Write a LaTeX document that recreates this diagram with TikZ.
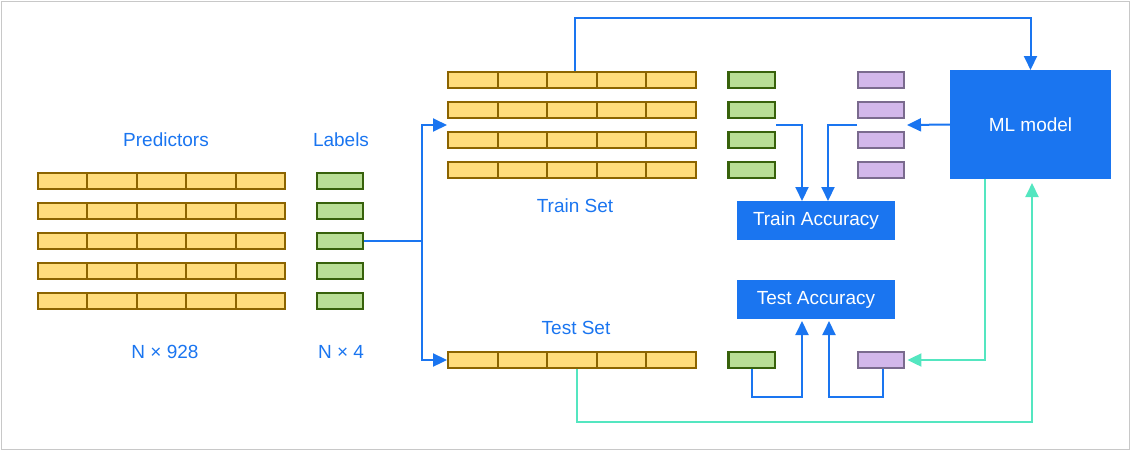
\documentclass[tikz,border=0pt]{standalone}
\usepackage{fontspec}
\setmainfont{Liberation Sans}
\usetikzlibrary{arrows.meta,calc}
\definecolor{mblue}{RGB}{26,117,240}
\definecolor{mteal}{RGB}{84,230,192}
\definecolor{yfill}{RGB}{255,220,124}
\definecolor{ydraw}{RGB}{140,100,0}
\definecolor{gfill}{RGB}{185,223,150}
\definecolor{gdraw}{RGB}{56,98,12}
\definecolor{pfill}{RGB}{210,183,234}
\definecolor{pdraw}{RGB}{122,106,142}
\definecolor{frame}{RGB}{200,200,200}
\begin{document}
\begin{tikzpicture}[x=1pt,y=-1pt,
 cell/.style={draw=ydraw,fill=yfill,line width=2.4pt,minimum width=49.5pt,minimum height=16pt,inner sep=0pt,outer sep=1.2pt},
 gcell/.style={draw=gdraw,fill=gfill,line width=2.4pt,minimum width=46.4pt,minimum height=16pt,inner sep=0pt,outer sep=1.2pt},
 pcell/.style={draw=pdraw,fill=pfill,line width=2.4pt,minimum width=46.4pt,minimum height=16pt,inner sep=0pt,outer sep=1.2pt},
 lbl/.style={text=mblue,font=\fontsize{19}{21}\selectfont,inner sep=0pt},
 bluebox/.style={fill=mblue,text=white,font=\fontsize{19}{21}\selectfont,inner sep=0pt,outer sep=0pt},
 bline/.style={draw=mblue,line width=2pt},
 barr/.style={draw=mblue,line width=2pt,-{Triangle[length=14pt,width=13pt]}},
 tarr/.style={draw=mteal,line width=2pt,-{Triangle[length=14pt,width=13pt]}}
]
\useasboundingbox (0,0) rectangle (1131,451);
\draw[frame,line width=1pt] (1,1) rectangle (1129.5,449.5);

% left data
\foreach \i in {1,...,5}{
  \pgfmathsetmacro\yy{181+30*(\i-1)}
  \foreach \j in {1,...,5}{
    \node[cell] (p\i-\j) at ({62.5+49.5*(\j-1)},\yy) {};
  }
  \node[gcell] (l\i) at (340,\yy) {};
}
\node[lbl] (predl) at (166,140) {Predictors};
\node[lbl] (labl) at (341,140) {Labels};
\node[lbl] (pdim) at (165,352) {N × 928};
\node[lbl] (ldim) at (341,352) {N × 4};

% train set
\foreach \i in {1,...,4}{
  \pgfmathsetmacro\yy{80+30*(\i-1)}
  \foreach \j in {1,...,5}{
    \node[cell] (tr\i-\j) at ({473+49.5*(\j-1)},\yy) {};
  }
  \node[gcell] (tg\i) at (751.5,\yy) {};
  \node[pcell] (tp\i) at (881,\yy) {};
}
\node[lbl] (trainl) at (575,206) {Train Set};

% test set
\foreach \j in {1,...,5}{
  \node[cell] (ts-\j) at ({473+49.5*(\j-1)},360) {};
}
\node[gcell] (tgt) at (751.5,360) {};
\node[pcell] (tpt) at (881,360) {};
\node[lbl] (testl) at (576,328) {Test Set};

% boxes
\node[bluebox,minimum width=161pt,minimum height=109pt] (ml) at (1030.5,124.5) {ML model};
\node[bluebox,minimum width=158pt,minimum height=39pt] (ta) at (816,220.5) {Train Accuracy};
\node[bluebox,minimum width=158pt,minimum height=39pt] (te) at (816,299.5) {Test Accuracy};

% split
\coordinate (split) at (422,241);
\coordinate (trin) at (447,125);
\draw[bline] (l3.east) -- (split);
\draw[barr] (split) |- (trin);
\draw[barr] (split) |- (ts-1.west);

% top to model
\coordinate (topr) at (1030.5,18);
\draw[barr] ($(tr1-3.north)+(3,0)$) |- (topr) -- (ml.north);

% model to train predictions
\coordinate (pin) at (907,125);
\draw[barr] (ml.west) -- (pin);

% train accuracy
\coordinate (gout) at (776,125);
\coordinate (pout) at (857,125);
\draw[barr] (gout) -| ($(ta.north)+(-14,0)$);
\draw[barr] (pout) -| ($(ta.north)+(12,0)$);

% test accuracy
\draw[barr] (tgt.south) -- ++(0,28) -| ($(te.south)+(-14,2)$);
\draw[barr] ($(tpt.south)+(2,0)$) -- ++(0,28) -| ($(te.south)+(13,2)$);

% teal connectors
\draw[tarr] ($(ml.south)+(-46,0)$) |- ($(tpt.east)+(2,0)$);
\coordinate (tbot) at (1032,422);
\draw[tarr] ($(ts-3.south)+(5,0)$) |- (tbot) -- ($(ml.south)+(1.5,4)$);
\end{tikzpicture}
\end{document}
